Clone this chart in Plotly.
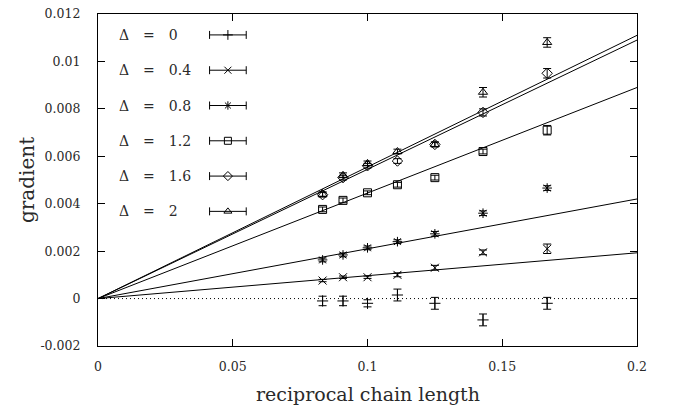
import plotly.graph_objects as go

# ---------------- data ----------------
chain_length = [12, 11, 10, 9, 8, 7, 6]
recip = [1.0 / n for n in chain_length]

deltas = ["0", "0.4", "0.8", "1.2", "1.6", "2"]

g_d0 = [-0.0001, -0.0001, -0.0002, 0.00015, -0.0002, -0.0009, -0.0002]
g_d04 = [0.00076, 0.0009, 0.0009, 0.001, 0.0013, 0.00195, 0.0021]
g_d08 = [0.00163, 0.00184, 0.00214, 0.0024, 0.00273, 0.0036, 0.00466]
g_d12 = [0.00376, 0.00414, 0.00446, 0.0048, 0.0051, 0.0062, 0.0071]
g_d16 = [0.00438, 0.0051, 0.0056, 0.0058, 0.0065, 0.00785, 0.0095]
g_d2 = [0.0044, 0.0052, 0.0057, 0.0062, 0.0065, 0.0087, 0.0108]

e_d0 = [0.0002, 0.0002, 0.00015, 0.00025, 0.00025, 0.00025, 0.00025]
e_d04 = [0.00005, 0.00005, 0.00005, 0.00008, 0.0001, 0.0001, 0.0002]
e_d08 = [0.00008, 0.00008, 0.00008, 0.00008, 0.0001, 0.0001, 0.0001]
e_d12 = [0.0001, 0.0001, 0.00008, 0.0001, 0.0001, 0.0001, 0.0002]
e_d16 = [0.0001, 0.0001, 0.0001, 0.0001, 0.0001, 0.00015, 0.0002]
e_d2 = [0.0001, 0.0001, 0.0001, 0.0001, 0.0001, 0.0002, 0.0002]

# slopes of the linear fits through the origin
fit_slopes = [0.0, 0.00965, 0.021, 0.0445, 0.0545, 0.0555]
fit_x = [0.0, 0.2]

series = [g_d0, g_d04, g_d08, g_d12, g_d16, g_d2]
errors = [e_d0, e_d04, e_d08, e_d12, e_d16, e_d2]
symbols = ["cross-thin-open", "x-thin-open", "asterisk-open",
           "square-open", "diamond-open", "triangle-up-open"]

x_ticks = [0, 0.05, 0.1, 0.15, 0.2]
x_ticktext = ["0", "0.05", "0.1", "0.15", "0.2"]
y_ticks = [-0.002, 0, 0.002, 0.004, 0.006, 0.008, 0.01, 0.012]
y_ticktext = ["-0.002", "0", "0.002", "0.004", "0.006", "0.008", "0.01", "0.012"]

FONT = "DejaVu Serif"
EM = "\u2003"
TXT = "#2a2a2a"

fig = go.Figure()

# fit lines
for i, s in enumerate(fit_slopes):
    fig.add_trace(go.Scatter(
        x=fit_x, y=[s * xv for xv in fit_x], mode="lines",
        line=dict(color="black", width=1, dash="1px,3px" if i == 0 else "solid"),
        showlegend=False, hoverinfo="skip"))

# data points with error bars
for i in range(len(series)):
    fig.add_trace(go.Scatter(
        x=recip, y=series[i], mode="markers",
        marker=dict(symbol=symbols[i], size=8, color="black",
                    line=dict(color="black", width=1)),
        error_y=dict(type="data", array=errors[i], visible=True,
                     color="black", thickness=1, width=4),
        name="Δ = " + deltas[i], showlegend=False))

# legend keys on an overlay axis (0..1 spans the plot area)
row_top = 0.937
row_step = 0.1063
key_x = 0.241
key_half = 0.034
for i in range(len(deltas)):
    ry = row_top - i * row_step
    fig.add_trace(go.Scatter(
        x=[key_x], y=[ry], mode="markers", xaxis="x2", yaxis="y2",
        marker=dict(symbol=symbols[i], size=7, color="black",
                    line=dict(color="black", width=1)),
        error_x=dict(type="constant", value=key_half, visible=True,
                     color="black", thickness=1, width=4),
        showlegend=False, hoverinfo="skip"))
    fig.add_annotation(
        x=0.035, y=ry, xref="x2", yref="y2",
        text="Δ" + EM + "=" + EM + deltas[i],
        showarrow=False, xanchor="left", yanchor="middle",
        font=dict(family=FONT, size=14, color=TXT))

# axis titles
fig.add_annotation(text="reciprocal chain length", xref="paper", yref="paper",
                   x=0.5, y=0, yshift=-48, xanchor="center", yanchor="middle",
                   showarrow=False, font=dict(family=FONT, size=19, color=TXT))
fig.add_annotation(text="gradient", xref="paper", yref="paper",
                   x=0, xshift=-71, y=0.5, textangle=-90,
                   xanchor="center", yanchor="middle", showarrow=False,
                   font=dict(family=FONT, size=20, color=TXT))

axis_common = dict(
    showline=True, linecolor="black", linewidth=1.2, mirror="ticks",
    ticks="inside", ticklen=7, tickcolor="black", tickwidth=1,
    showgrid=False, zeroline=False, automargin=False,
    ticklabeloverflow="allow",
    tickfont=dict(family=FONT, size=12.5, color=TXT),
)

fig.update_layout(
    width=673, height=411,
    margin=dict(l=98, r=36, t=14, b=65),
    paper_bgcolor="white", plot_bgcolor="white",
    xaxis=dict(range=[0, 0.2], tickvals=x_ticks, ticktext=x_ticktext,
               ticklabelstandoff=9, **axis_common),
    yaxis=dict(range=[-0.002, 0.012], tickvals=y_ticks, ticktext=y_ticktext,
               ticklabelstandoff=14, **axis_common),
    xaxis2=dict(range=[0, 1], overlaying="x", visible=False, fixedrange=True),
    yaxis2=dict(range=[0, 1], overlaying="y", visible=False, fixedrange=True),
    showlegend=False,
)

# remove the default page margin so the figure sits at the window origin
fig.write_html("out.html",
               config={"displayModeBar": False},
               post_script="document.body.style.margin='0';")
